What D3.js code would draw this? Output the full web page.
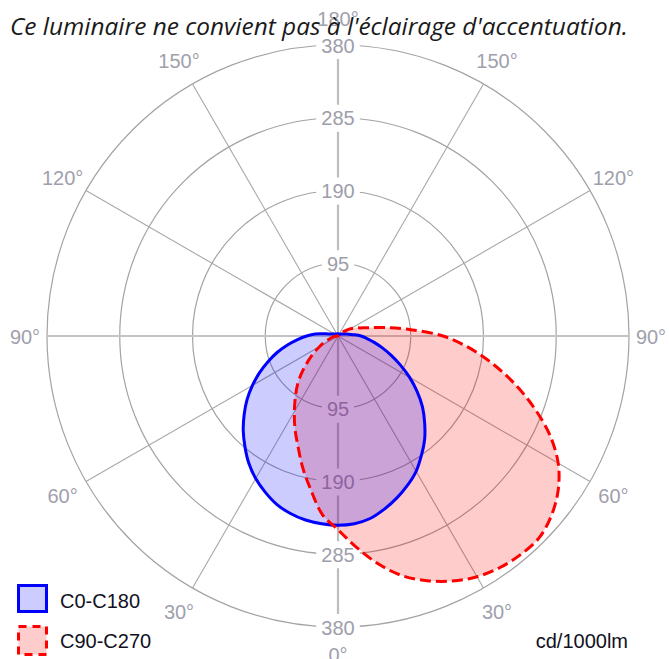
<!DOCTYPE html>
<html><head><meta charset="utf-8">
<script src="https://cdn.jsdelivr.net/npm/d3@7"></script>
<style>body{margin:0;background:#fff}svg{display:block}</style>
</head><body><svg id="c" width="669" height="659"></svg>
<script>
// ---- data ----
const title = "Ce luminaire ne convient pas à l'éclairage d'accentuation.";
const gammaAngles = [0,5,10,15,20,25,30,35,40,45,50,55,60,65,70,75,80,85,90,95,100,105,110,115,120,125,130,135,140,145,150,155,160,165,170,175,180];
// C0-C180 plane (blue): right half = C0, left half = C180
const c0   = [247,246,242,234,225,215,204,190,176,160,144,126,108,90,74,60,48,38,30,20,14,10,8,6,5,4,4,3,3,3,3,3,3,3,3,3,3];
const c180 = [247,246,244,240,234,225,215,203,189,175,160,145,129,113,97,82,67,53,41,30,16,10,8,6,5,4,4,3,3,3,3,3,3,3,3,3,3];
// C90-C270 plane (red): right half = C90, left half = C270
const c90  = [253,277,302,324,340,353,363,369,372,372,364,351,332,305,272,238,204,171,137,95,63,42,31,25,19,13,8,4,1,0,0,0,0,0,0,0,0];
const c270 = [253,234,204,178,153,133,114,97,82,66,51,39,28,20,13,9,6,3,1,0,0,0,0,0,0,0,0,0,0,0,0,0,0,0,0,0,0];
const ringValues = [95,190,285,380];
const spokeAngles = [0,30,60,90,120,150,180];
const seriesNames = ["C0-C180","C90-C270"];
const unitLabel = "cd/1000lm";

// ---- layout ----
const svg = d3.select("#c");
const cx = 338, cy = 336, R = 291;
const r = d3.scaleLinear().domain([0,380]).range([0,R]);
const g = svg.append("g").attr("transform",`translate(${cx},${cy})`);
const rad = d => d*Math.PI/180;
const labFont = "'Liberation Sans',Arial,sans-serif";

// grid circles
g.selectAll("circle.ring").data(ringValues).join("circle")
  .attr("r", d=>r(d)).attr("fill","none").attr("stroke","#a3a3a3").attr("stroke-width",1.2);

// spokes
[30,60,120,150].forEach(a=>{
  [-1,1].forEach(s=>{
    g.append("line").attr("x1",0).attr("y1",0)
      .attr("x2", s*R*Math.sin(rad(a))).attr("y2", R*Math.cos(rad(a)))
      .attr("stroke","#a8a8a8").attr("stroke-width",1.1);
  });
});
g.append("line").attr("x1",-R).attr("x2",R).attr("y1",0).attr("y2",0).attr("stroke","#c4c4c4").attr("stroke-width",2.2);
g.append("line").attr("y1",-R).attr("y2",R).attr("x1",0).attr("x2",0).attr("stroke","#bdbdbd").attr("stroke-width",2.2);

// value labels on the vertical axis
const valLabels = [];
ringValues.forEach(v=>{ valLabels.push({v, y:-r(v)}); valLabels.push({v, y:r(v)}); });
const vl = g.selectAll("g.vl").data(valLabels).join("g").attr("transform",d=>`translate(0,${d.y})`);
vl.append("rect").attr("x",d=>-(String(d.v).length*5.6+5)).attr("width",d=>String(d.v).length*11.2+10)
  .attr("y",-13).attr("height",27).attr("fill","#fff");
vl.append("text").text(d=>d.v).attr("text-anchor","middle").attr("dy","0.38em")
  .attr("font-family",labFont).attr("font-size",20).attr("fill","#9e9eaa");

// angle labels
const angLabels = [];
spokeAngles.forEach(a=>{
  if (a===0||a===180) angLabels.push({a, s:1});
  else { angLabels.push({a,s:-1}); angLabels.push({a,s:1}); }
});
const lr = d => d.a===90 ? 313 : 318;
g.selectAll("text.al").data(angLabels).join("text")
  .attr("x",d=>d.s*lr(d)*Math.sin(rad(d.a))).attr("y",d=>lr(d)*Math.cos(rad(d.a)))
  .attr("text-anchor","middle").attr("dy","0.38em")
  .attr("font-family",labFont).attr("font-size",20).attr("fill","#a0a0ac")
  .text(d=>d.a+"°");

// ---- lobes ----
function lobePoints(left,right){
  const n = gammaAngles.length;
  const pts = [];
  const hasZero = left.concat(right).some(v=>v===0);
  if (hasZero) pts.push([0,0]);
  for (let i=n-2;i>=1;i--) if (left[i]>0) pts.push([Math.PI+rad(gammaAngles[i]), r(left[i])]);
  for (let i=0;i<n;i++) if (right[i]>0) pts.push([Math.PI-rad(gammaAngles[i]), r(right[i])]);
  return pts;
}
const radial = d3.lineRadial().angle(d=>d[0]).radius(d=>d[1]).curve(d3.curveCatmullRomClosed.alpha(0.5));
const redPath = radial(lobePoints(c270,c90));
const bluePath = radial(lobePoints(c180,c0));
g.append("path").attr("d",redPath).attr("fill","#ff0000").attr("fill-opacity",0.2).attr("stroke","none");
g.append("path").attr("d",bluePath).attr("fill","#0000ff").attr("fill-opacity",0.2).attr("stroke","none");
g.append("path").attr("d",bluePath).attr("fill","none").attr("stroke","#0000ff").attr("stroke-width",3);
g.append("path").attr("d",redPath).attr("fill","none").attr("stroke","#ff0000").attr("stroke-width",3)
  .attr("stroke-dasharray","11,5");

// ---- title ----
const t = svg.append("text").attr("x",10).attr("y",35).text(title)
  .attr("font-family","'Open Sans',sans-serif").attr("font-style","italic")
  .attr("font-size",22).attr("fill","#1a1a1a");
const w = t.node().getComputedTextLength();
t.attr("font-size", 22*618/w);

// ---- legend ----
const leg = svg.append("g");
leg.append("rect").attr("x",18.5).attr("y",585.5).attr("width",28).attr("height",26)
  .attr("fill","#ccccff").attr("stroke","#0000ff").attr("stroke-width",3);
leg.append("rect").attr("x",18.5).attr("y",626.5).attr("width",28).attr("height",28)
  .attr("fill","#ffcccc").attr("stroke","#ff0000").attr("stroke-width",3).attr("stroke-dasharray","8,6");
leg.append("text").attr("x",60).attr("y",608).text(seriesNames[0])
  .attr("font-family",labFont).attr("font-size",20).attr("fill","#111122");
leg.append("text").attr("x",60).attr("y",648).text(seriesNames[1])
  .attr("font-family",labFont).attr("font-size",20).attr("fill","#111122");
leg.append("text").attr("x",628).attr("y",648).attr("text-anchor","end").text(unitLabel)
  .attr("font-family",labFont).attr("font-size",20).attr("fill","#111122");
</script></body></html>
